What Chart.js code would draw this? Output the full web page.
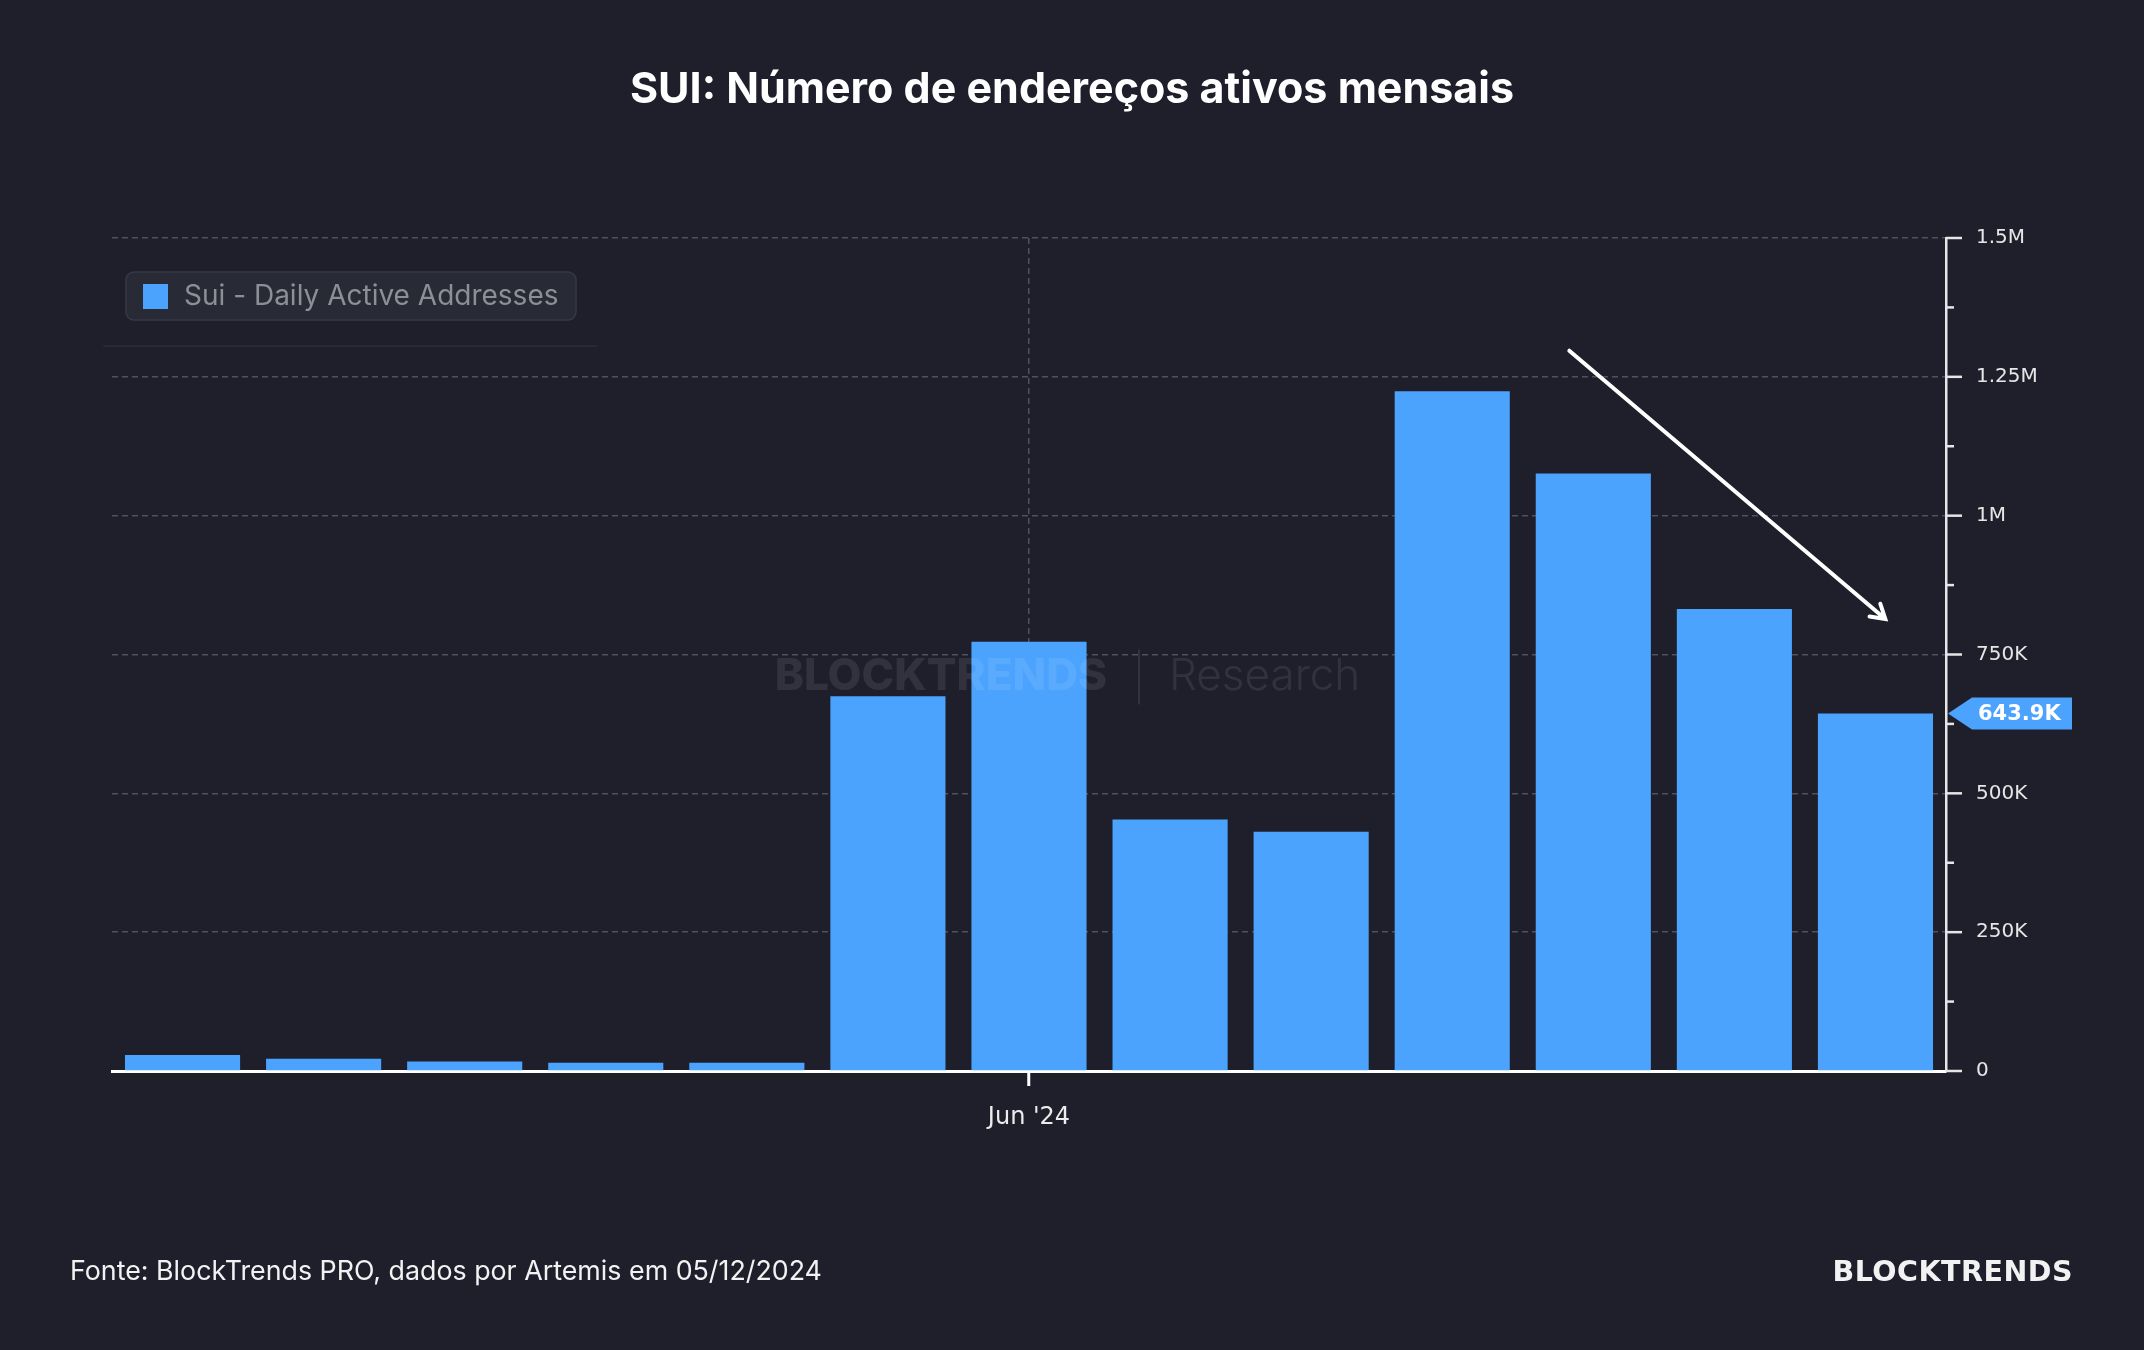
<!DOCTYPE html>
<html>
<head>
<meta charset="utf-8">
<script src="https://cdn.jsdelivr.net/npm/chart.js@4.4.1/dist/chart.umd.min.js"></script>
<style>
  html, body { margin: 0; padding: 0; background: #1e1f2b; }
  #wrap { position: relative; width: 2144px; height: 1350px; }
  #chart { position: absolute; left: 0; top: 0; }
  .txt { position: absolute; color: #f2f2f2; white-space: nowrap; }
  #title { left: 0; width: 2144px; top: 61px; text-align: center; color: #ffffff; font: 700 43px Inter, sans-serif; }
  #source { left: 70px; top: 1254px; font: 400 26.8px Inter, sans-serif; }
  #brand { right: 71px; top: 1255px; font: 700 28.5px "DejaVu Sans", sans-serif; letter-spacing: 0.5px; }
</style>
</head>
<body>
<div id="wrap">
  <canvas id="chart" width="2144" height="1350"></canvas>
  <div class="txt" id="title">SUI: Número de endereços ativos mensais</div>
  <div class="txt" id="source">Fonte: BlockTrends PRO, dados por Artemis em 05/12/2024</div>
  <div class="txt" id="brand">BLOCKTRENDS</div>
</div>
<script>
        const months = ["Dec '23", "Jan '24", "Feb '24", "Mar '24", "Apr '24", "May '24", "Jun '24",
                        "Jul '24", "Aug '24", "Sep '24", "Oct '24", "Nov '24", "Dec '24"];
        const activeAddresses = [29000, 22000, 17000, 15000, 15000, 675000, 773000,
                                 453000, 431000, 1224000, 1076000, 832000, 643900];
        const shownMonth = "Jun '24";
        const yMax = 1500000;
        const yStep = 125000;
        const yLabelStep = 250000;

        const barColor = '#4ba3fe';
        const gridColor = 'rgba(120, 122, 135, 0.55)';

        const fmtValue = (v) => {
            if (v === 0) return '0';
            if (v >= 1000000) return (v / 1000000) + 'M';
            return (v / 1000) + 'K';
        };

        // legend box, watermark, axis minor ticks, last value tag and trend arrow
        const decorations = {
            id: 'decorations',
            beforeDatasetsDraw(chart) {
                const ctx = chart.ctx;
                const ds = chart.data.datasets[0];
                ctx.save();
                ctx.strokeStyle = '#2b2d39';
                ctx.lineWidth = 1.5;
                ctx.beginPath();
                ctx.moveTo(103, 346);
                ctx.lineTo(597, 346);
                ctx.stroke();
                ctx.fillStyle = '#282a36';
                ctx.strokeStyle = '#363844';
                ctx.lineWidth = 1.5;
                ctx.beginPath();
                ctx.roundRect(126, 272, 450, 48, 8);
                ctx.fill();
                ctx.stroke();
                ctx.fillStyle = ds.backgroundColor;
                ctx.fillRect(143, 284, 25, 25);
                ctx.fillStyle = '#8d8e96';
                ctx.font = '400 28px Inter';
                ctx.textBaseline = 'middle';
                ctx.fillText(ds.label, 184, 297);
                ctx.restore();
            },
            afterDatasetsDraw(chart) {
                const ctx = chart.ctx;
                const a = chart.chartArea;
                const cx = (a.left + a.right) / 2;
                const cy = (a.top + a.bottom) / 2;
                ctx.save();
                ctx.fillStyle = 'rgba(255, 255, 255, 0.085)';
                ctx.textBaseline = 'middle';
                ctx.font = '800 44px Inter';
                ctx.textAlign = 'right';
                ctx.fillText('BLOCKTRENDS', cx + 78, cy + 22);
                ctx.textAlign = 'left';
                ctx.font = '300 44px Inter';
                ctx.fillText('Research', cx + 140, cy + 22);
                ctx.fillRect(cx + 109, cy - 5, 2, 55);
                ctx.restore();
            },
            afterDraw(chart) {
                const ctx = chart.ctx;
                const x = chart.scales.x;
                const y = chart.scales.y;
                const axisX = y.left;
                ctx.save();
                // right axis ticks: long for labelled values, short in between
                ctx.strokeStyle = '#e6e6e6';
                ctx.lineWidth = 2.5;
                for (let v = 0; v <= yMax; v += yStep) {
                    const py = y.getPixelForValue(v);
                    const len = v % yLabelStep === 0 ? 16 : 8;
                    ctx.beginPath();
                    ctx.moveTo(axisX, py);
                    ctx.lineTo(axisX + len, py);
                    ctx.stroke();
                }
                // last value tag
                const last = activeAddresses[activeAddresses.length - 1];
                const ty = y.getPixelForValue(last);
                ctx.fillStyle = barColor;
                ctx.beginPath();
                ctx.moveTo(axisX + 2, ty);
                ctx.lineTo(axisX + 26, ty - 16);
                ctx.lineTo(axisX + 126, ty - 16);
                ctx.lineTo(axisX + 126, ty + 16);
                ctx.lineTo(axisX + 26, ty + 16);
                ctx.closePath();
                ctx.fill();
                ctx.fillStyle = '#ffffff';
                ctx.font = 'bold 21px "DejaVu Sans"';
                ctx.textBaseline = 'middle';
                ctx.textAlign = 'left';
                ctx.fillText((last / 1000).toFixed(1) + 'K', axisX + 32, ty + 1);
                // trend arrow
                const x1 = x.getPixelForValue(9.83), y1 = y.getPixelForValue(1297000);
                const x2 = x.getPixelForValue(12.07), y2 = y.getPixelForValue(814000);
                const ang = Math.atan2(y2 - y1, x2 - x1);
                ctx.strokeStyle = '#ffffff';
                ctx.lineWidth = 4;
                ctx.lineCap = 'round';
                ctx.beginPath();
                ctx.moveTo(x1, y1);
                ctx.lineTo(x2, y2);
                ctx.moveTo(x2 - 16 * Math.cos(ang - 0.55), y2 - 16 * Math.sin(ang - 0.55));
                ctx.lineTo(x2, y2);
                ctx.lineTo(x2 - 16 * Math.cos(ang + 0.55), y2 - 16 * Math.sin(ang + 0.55));
                ctx.stroke();
                ctx.restore();
            }
        };

        const ctxChart = document.getElementById('chart').getContext('2d');
        new Chart(ctxChart, {
            type: 'bar',
            data: {
                labels: months,
                datasets: [{
                    label: 'Sui - Daily Active Addresses',
                    data: activeAddresses,
                    backgroundColor: barColor,
                    borderWidth: 0,
                    barPercentage: 0.816,
                    categoryPercentage: 1
                }]
            },
            options: {
                responsive: false,
                animation: false,
                layout: { padding: { left: 112, right: 0, top: 238, bottom: 0 } },
                scales: {
                    x: {
                        grid: {
                            offset: false,
                            color: (c) => months[c.index] === shownMonth ? gridColor : 'transparent',
                            lineWidth: 1.5,
                            tickColor: (c) => months[c.index] === shownMonth ? '#ffffff' : 'transparent',
                            tickLength: 15,
                            tickWidth: 3,
                            tickBorderDash: []
                        },
                        border: { display: true, color: '#ffffff', width: 3, dash: [6, 4] },
                        ticks: {
                            autoSkip: false,
                            maxRotation: 0,
                            padding: 17,
                            color: '#ececec',
                            font: { family: 'DejaVu Sans', size: 24 },
                            callback: (v, i) => months[i] === shownMonth ? months[i] : ''
                        },
                        afterFit: (scale) => { scale.height = 1350 - 1071; }
                    },
                    y: {
                        position: 'right',
                        min: 0,
                        max: yMax,
                        grid: {
                            drawTicks: false,
                            lineWidth: 1.5,
                            color: (c) => (c.tick && c.tick.value % yLabelStep === 0 && c.tick.value > 0) ? gridColor : 'transparent'
                        },
                        border: { display: true, color: '#e6e6e6', width: 2.5, dash: [6, 4] },
                        ticks: {
                            stepSize: yStep,
                            padding: 30,
                            color: '#e6e6e6',
                            font: { family: 'DejaVu Sans', size: 20 },
                            callback: (v) => v % yLabelStep === 0 ? fmtValue(v) : ''
                        },
                        afterFit: (scale) => { scale.width = 2144 - 1946; }
                    }
                },
                plugins: {
                    legend: { display: false },
                    tooltip: { enabled: false },
                    title: { display: false }
                }
            },
            plugins: [decorations]
        });
</script>
</body>
</html>
